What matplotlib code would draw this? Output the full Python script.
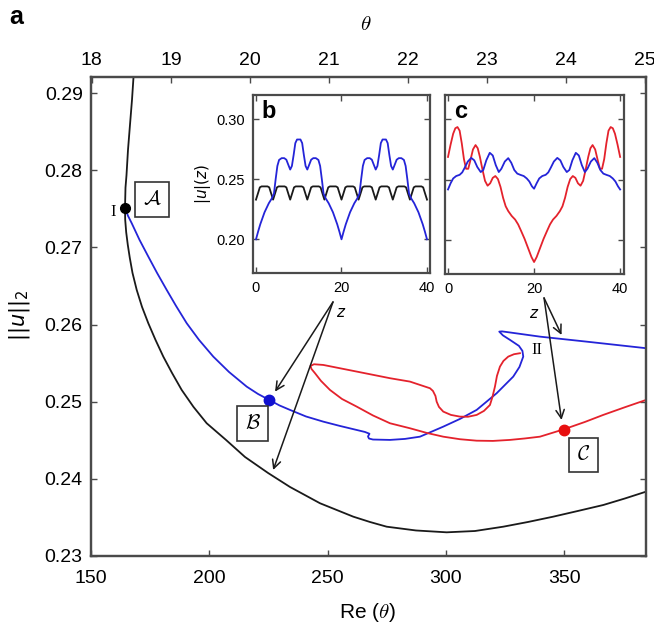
import numpy as np
import matplotlib
matplotlib.use("Agg")
import matplotlib.pyplot as plt

plt.rcParams['font.family'] = ['Liberation Sans', 'DejaVu Sans']

BLUE = '#2424d8'
RED = '#e4222c'
BLACK = '#1a1a1a'
SPINE = '#4a4a4a'

# main panel: Re vs ||u||_2
re_black = [168.17, 167.33, 166.48, 165.64, 165.00, 164.58, 164.37, 164.45, 164.88, 165.55,
            166.40, 167.54, 169.32, 171.56, 174.22, 177.26, 180.56, 184.23, 188.33, 193.32,
            198.90, 207.06, 215.09, 224.81, 234.11, 246.79, 260.86, 267.92, 274.98, 287.36,
            300.34, 312.30, 324.26, 334.70, 345.39, 355.83, 366.52, 375.70, 384.6]
u_black = [0.29303, 0.28914, 0.28590, 0.28266, 0.27936, 0.27776, 0.27510, 0.27361, 0.27196, 0.27034,
           0.26865, 0.26670, 0.26450, 0.26230, 0.26018, 0.25802, 0.25585, 0.25374, 0.25153, 0.24933,
           0.24721, 0.24505, 0.24284, 0.24077, 0.23895, 0.23684, 0.23510, 0.23441, 0.23380, 0.23331,
           0.23307, 0.23324, 0.23380, 0.23441, 0.23510, 0.23584, 0.23661, 0.23746, 0.23834]

re_blue = [164.37, 165.64, 167.20, 170.50, 174.22, 177.90, 181.99, 185.93, 190.45, 195.65,
           201.69, 208.33, 215.81, 220.58, 225.36, 229.67, 234.11, 240.87, 248.18, 255.24,
           262.30, 265.81, 267.71, 267.08, 267.50, 269.19, 276.37, 282.71, 289.05, 298.90,
           305.96, 313.02, 321.47, 325.40, 328.49, 331.11, 332.71, 332.37, 330.89, 327.09,
           324.13, 322.57, 323.71, 327.09, 339.77, 359.51, 384.6]
u_blue = [0.27510, 0.27410, 0.27315, 0.27099, 0.26882, 0.26671, 0.26450, 0.26243, 0.26018, 0.25802,
          0.25585, 0.25386, 0.25196, 0.25101, 0.25023, 0.24952, 0.24894, 0.24809, 0.24742, 0.24686,
          0.24634, 0.24608, 0.24585, 0.24550, 0.24523, 0.24510, 0.24505, 0.24518, 0.24547, 0.24677,
          0.24777, 0.24894, 0.25110, 0.25231, 0.25326, 0.25451, 0.25585, 0.25659, 0.25724, 0.25802,
          0.25860, 0.25909, 0.25912, 0.25898, 0.25844, 0.25779, 0.25694]

re_red = [331.32, 328.79, 326.37, 324.34, 322.86, 321.60, 320.75, 319.69, 318.64, 316.10,
          313.02, 309.34, 305.96, 302.15, 298.90, 297.08, 296.11, 295.60, 294.54, 293.28,
          289.05, 284.83, 276.37, 262.30, 248.18, 244.25, 242.77, 243.20, 244.68, 247.22,
          251.01, 256.08, 262.30, 269.19, 276.37, 284.83, 292.01, 298.90, 305.96, 313.02,
          319.91, 327.09, 333.43, 339.77, 349.91, 358.79, 366.52, 375.70, 384.6]
u_red = [0.25629, 0.25616, 0.25585, 0.25529, 0.25455, 0.25335, 0.25196, 0.25062, 0.24958, 0.24881,
         0.24829, 0.24805, 0.24807, 0.24829, 0.24872, 0.24933, 0.25001, 0.25075, 0.25140, 0.25175,
         0.25218, 0.25261, 0.25305, 0.25391, 0.25477, 0.25486, 0.25464, 0.25425, 0.25370, 0.25270,
         0.25153, 0.25036, 0.24937, 0.24822, 0.24721, 0.24656, 0.24595, 0.24547, 0.24514, 0.24495,
         0.24492, 0.24505, 0.24524, 0.24547, 0.24643, 0.24738, 0.24829, 0.24929, 0.25023]

pt_I = (164.4, 0.2751)
pt_B = (225.4, 0.2502)
pt_C = (349.9, 0.2464)

re_ticks = [150, 200, 250, 300, 350]
u_ticks = [0.23, 0.24, 0.25, 0.26, 0.27, 0.28, 0.29]
theta_ticks = [18, 19, 20, 21, 22, 23, 24, 25]

# inset b
zb_black = [0, 0.4, 0.9, 1.3, 2.7, 3.1, 3.6,
            4, 4.4, 4.9, 5.3, 6.7, 7.1, 7.6,
            8, 8.4, 8.9, 9.3, 10.7, 11.1, 11.6,
            12, 12.4, 12.9, 13.3, 14.7, 15.1, 15.6,
            16, 16.4, 16.9, 17.3, 18.7, 19.1, 19.6,
            20, 20.4, 20.9, 21.3, 22.7, 23.1, 23.6,
            24, 24.4, 24.9, 25.3, 26.7, 27.1, 27.6,
            28, 28.4, 28.9, 29.3, 30.7, 31.1, 31.6,
            32, 32.4, 32.9, 33.3, 34.7, 35.1, 35.6,
            36, 36.4, 36.9, 37.3, 38.7, 39.1, 39.6,
            40]
ub_black = [0.233, 0.2375, 0.2432, 0.244, 0.244, 0.2432, 0.2375,
            0.233, 0.2375, 0.2432, 0.244, 0.244, 0.2432, 0.2375,
            0.233, 0.2375, 0.2432, 0.244, 0.244, 0.2432, 0.2375,
            0.233, 0.2375, 0.2432, 0.244, 0.244, 0.2432, 0.2375,
            0.233, 0.2375, 0.2432, 0.244, 0.244, 0.2432, 0.2375,
            0.233, 0.2375, 0.2432, 0.244, 0.244, 0.2432, 0.2375,
            0.233, 0.2375, 0.2432, 0.244, 0.244, 0.2432, 0.2375,
            0.233, 0.2375, 0.2432, 0.244, 0.244, 0.2432, 0.2375,
            0.233, 0.2375, 0.2432, 0.244, 0.244, 0.2432, 0.2375,
            0.233, 0.2375, 0.2432, 0.244, 0.244, 0.2432, 0.2375,
            0.233]

zb_blue = [0, 0.5, 1, 2, 3, 3.7, 4.2, 4.6, 5.0, 5.4, 6.0, 6.6, 7.1, 7.5, 8.0, 8.4, 8.8, 9.2, 9.6,
           10.4, 10.8, 11.2, 11.6, 12.0, 12.5, 12.9, 13.4, 14.0, 14.6, 15.0, 15.4, 15.8, 16.3,
           17, 18, 19, 19.5,
           20, 20.5, 21, 22, 23, 23.7, 24.2, 24.6, 25.0, 25.4, 26.0, 26.6, 27.1, 27.5, 28.0, 28.4,
           28.8, 29.2, 29.6, 30.4, 30.8, 31.2, 31.6, 32.0, 32.5, 32.9, 33.4, 34.0, 34.6, 35.0,
           35.4, 35.8, 36.3, 37, 38, 39, 39.5, 40]
ub_blue = [0.200, 0.2065, 0.2125, 0.2225, 0.2300, 0.2340, 0.2380, 0.2500, 0.2610, 0.2660, 0.2675,
           0.2675, 0.2662, 0.2625, 0.2580, 0.2610, 0.2700, 0.2800, 0.2830,
           0.2830, 0.2800, 0.2700, 0.2610, 0.2580, 0.2625, 0.2662, 0.2675, 0.2675, 0.2660, 0.2610,
           0.2500, 0.2380, 0.2340, 0.2300, 0.2225, 0.2125, 0.2065,
           0.200, 0.2065, 0.2125, 0.2225, 0.2300, 0.2340, 0.2380, 0.2500, 0.2610, 0.2660, 0.2675,
           0.2675, 0.2662, 0.2625, 0.2580, 0.2610, 0.2700, 0.2800, 0.2830,
           0.2830, 0.2800, 0.2700, 0.2610, 0.2580, 0.2625, 0.2662, 0.2675, 0.2675, 0.2660, 0.2610,
           0.2500, 0.2380, 0.2340, 0.2300, 0.2225, 0.2125, 0.2065, 0.200]

# inset c
zc_red = [0, 0.6, 1.2, 1.7, 2.2, 2.7, 3.2, 3.7, 4.2, 4.7, 5.2, 5.8, 6.4, 6.9, 7.4, 8.0, 8.6,
          9.2, 9.8, 10.4, 11.0, 11.6, 12.2, 12.8, 13.4, 14.0, 14.8, 15.6, 16.3, 17.0, 17.8,
          18.6, 19.4,
          20, 20.6, 21.4, 22.2, 23.0, 23.7, 24.4, 25.2, 26.0, 26.6, 27.2, 27.8, 28.4, 29.0,
          29.6, 30.2, 30.8, 31.4, 32.0, 32.6, 33.1, 33.6, 34.2, 34.8, 35.3, 35.8, 36.3, 36.8,
          37.3, 37.8, 38.3, 38.8, 39.4, 40]
uc_red = [0.2688, 0.2790, 0.2880, 0.2925, 0.2935, 0.2905, 0.2800, 0.2670, 0.2590, 0.2590,
          0.2660, 0.2750, 0.2786, 0.2760, 0.2690, 0.2585, 0.2490, 0.2450, 0.2470, 0.2515,
          0.2530, 0.2505, 0.2440, 0.2350, 0.2280, 0.2240, 0.2200, 0.2170, 0.2130, 0.2075,
          0.2010, 0.1935, 0.1860,
          0.1819, 0.1860, 0.1935, 0.2010, 0.2075, 0.2130, 0.2170, 0.2200, 0.2240, 0.2280,
          0.2350, 0.2440, 0.2505, 0.2530, 0.2515, 0.2470, 0.2450, 0.2490, 0.2585, 0.2690,
          0.2760, 0.2786, 0.2750, 0.2660, 0.2590, 0.2590, 0.2670, 0.2800, 0.2905, 0.2935,
          0.2925, 0.2880, 0.2790, 0.2688]

zc_blue = [0, 0.6, 1.2, 1.9, 2.7, 3.3, 3.9, 4.6, 5.4, 6.1, 6.8, 7.6, 8.2, 8.9, 9.7, 10.4, 11.1,
           11.8, 12.4, 13.2, 14.0, 14.7, 15.4, 16.1, 16.8, 17.6, 18.3, 18.9, 19.5,
           20, 20.6, 21.2, 21.9, 22.7, 23.3, 23.9, 24.6, 25.4, 26.1, 26.8, 27.6, 28.2, 28.9,
           29.7, 30.4, 31.1, 31.8, 32.4, 33.2, 34.0, 34.7, 35.4, 36.1, 36.8, 37.6, 38.3, 38.9,
           39.5, 40]
uc_blue = [0.2419, 0.2470, 0.2510, 0.2530, 0.2540, 0.2560, 0.2600, 0.2650, 0.2680, 0.2660,
           0.2605, 0.2563, 0.2580, 0.2660, 0.2722, 0.2700, 0.2620, 0.2563, 0.2590, 0.2650,
           0.2678, 0.2640, 0.2580, 0.2550, 0.2540, 0.2530, 0.2510, 0.2485, 0.2445,
           0.2425, 0.2470, 0.2510, 0.2530, 0.2540, 0.2560, 0.2600, 0.2650, 0.2680, 0.2660,
           0.2605, 0.2563, 0.2580, 0.2660, 0.2722, 0.2700, 0.2620, 0.2563, 0.2590, 0.2650,
           0.2678, 0.2640, 0.2580, 0.2550, 0.2540, 0.2530, 0.2510, 0.2485, 0.2445, 0.2419]

inset_ticks_z = [0, 20, 40]
inset_ticks_u = [0.20, 0.25, 0.30]


def style_axes(a, size):
    for s in a.spines.values():
        s.set_color(SPINE)
        s.set_linewidth(1.6)
    a.tick_params(direction='in', length=4, width=1, color=SPINE, labelsize=size, pad=6)


fig = plt.figure(figsize=(6.54, 6.25), dpi=100)
ax = fig.add_axes([91 / 654, 1 - 556 / 625, 555 / 654, 479 / 625])

ax.plot(re_black, u_black, color=BLACK, lw=1.3, zorder=2)
ax.plot(re_blue, u_blue, color=BLUE, lw=1.3, zorder=3)
ax.plot(re_red, u_red, color=RED, lw=1.3, zorder=3)
ax.plot(*pt_I, 'o', color='black', ms=7, zorder=5)
ax.plot(*pt_B, 'o', color='#1010d0', ms=7.5, zorder=5)
ax.plot(*pt_C, 'o', color='#e81010', ms=7.5, zorder=5)

ax.set_xlim(150, 384.6)
ax.set_ylim(0.23, 0.2921)
ax.set_xticks(re_ticks)
ax.set_yticks(u_ticks)
ax.set_yticklabels(['%.2f' % v for v in u_ticks])
style_axes(ax, 14)
ax.tick_params(right=True)
ax.tick_params(axis='x', pad=10)

ax2 = ax.twiny()
ax2.set_xlim(17.99, 25.01)
ax2.set_xticks(theta_ticks)
style_axes(ax2, 14)

box = dict(boxstyle='square,pad=0.38', fc='white', ec='#333333', lw=1.2)
ax.text(175.8, 0.27617, r'$\mathcal{A}$', fontsize=15, ha='center', va='center',
        math_fontfamily='cm', bbox=box, zorder=6)
ax.text(218.3, 0.24719, r'$\mathcal{B}$', fontsize=15, ha='center', va='center',
        math_fontfamily='cm', bbox=box, zorder=6)
ax.text(358.1, 0.24310, r'$\mathcal{C}$', fontsize=15, ha='center', va='center',
        math_fontfamily='cm', bbox=box, zorder=6)
ax.text(159.4, 0.27466, 'I', fontsize=12, family='Liberation Serif', ha='center', va='center')
ax.text(338.3, 0.25672, 'II', fontsize=12, family='Liberation Serif', ha='center', va='center')

arrow = dict(arrowstyle='->,head_length=0.6,head_width=0.3', color=BLACK, lw=1.1,
             shrinkA=0, shrinkB=0)
ax.annotate('', xy=(227.8, 0.25131), xytext=(252.3, 0.26294), arrowprops=arrow)
ax.annotate('', xy=(227.0, 0.24115), xytext=(252.3, 0.26294), arrowprops=arrow)
ax.annotate('', xy=(348.9, 0.25866), xytext=(341.5, 0.26346), arrowprops=arrow)
ax.annotate('', xy=(348.9, 0.24764), xytext=(341.5, 0.26346), arrowprops=arrow)

fig.text(20 / 654, 1 - 315 / 625, r'$||u||_2$', fontsize=15, rotation=90, ha='center', va='center')
fig.text(367 / 654, 1 - 612 / 625, r'Re ($\theta$)', fontsize=15, ha='center', va='center',
         math_fontfamily='cm')
fig.text(366 / 654, 1 - 24 / 625, r'$\theta$', fontsize=15, ha='center', va='center',
         math_fontfamily='cm')
fig.text(16 / 654, 1 - 17 / 625, 'a', fontsize=18, fontweight='bold', ha='center', va='center')

# inset b
axb = fig.add_axes([253 / 654, 1 - 273 / 625, 177 / 654, 178 / 625])
axb.plot(zb_black, ub_black, color=BLACK, lw=1.3)
axb.plot(zb_blue, ub_blue, color=BLUE, lw=1.3)
axb.set_xlim(-0.7, 40.7)
axb.set_ylim(0.172, 0.320)
axb.set_xticks(inset_ticks_z)
axb.set_yticks(inset_ticks_u)
axb.set_yticklabels(['%.2f' % v for v in inset_ticks_u])
style_axes(axb, 10.5)
axb.tick_params(top=True, right=True, pad=6)
axb.set_xlabel('$z$', fontsize=11, labelpad=8)
axb.set_ylabel('$|u|(z)$', fontsize=11, labelpad=2)
axb.text(0.09, 0.91, 'b', transform=axb.transAxes, fontsize=17, fontweight='bold',
         ha='center', va='center')

# inset c
axc = fig.add_axes([445 / 654, 1 - 274 / 625, 179 / 654, 179 / 625])
axc.plot(zc_red, uc_red, color=RED, lw=1.3)
axc.plot(zc_blue, uc_blue, color=BLUE, lw=1.3)
axc.set_xlim(-0.7, 40.9)
axc.set_ylim(0.172, 0.320)
axc.set_xticks(inset_ticks_z)
axc.set_yticks(inset_ticks_u)
axc.set_yticklabels([])
style_axes(axc, 10.5)
axc.tick_params(top=True, right=True, pad=6)
axc.set_xlabel('$z$', fontsize=11, labelpad=8)
axc.text(0.09, 0.91, 'c', transform=axc.transAxes, fontsize=17, fontweight='bold',
         ha='center', va='center')

fig.savefig('out.png', dpi=100)
